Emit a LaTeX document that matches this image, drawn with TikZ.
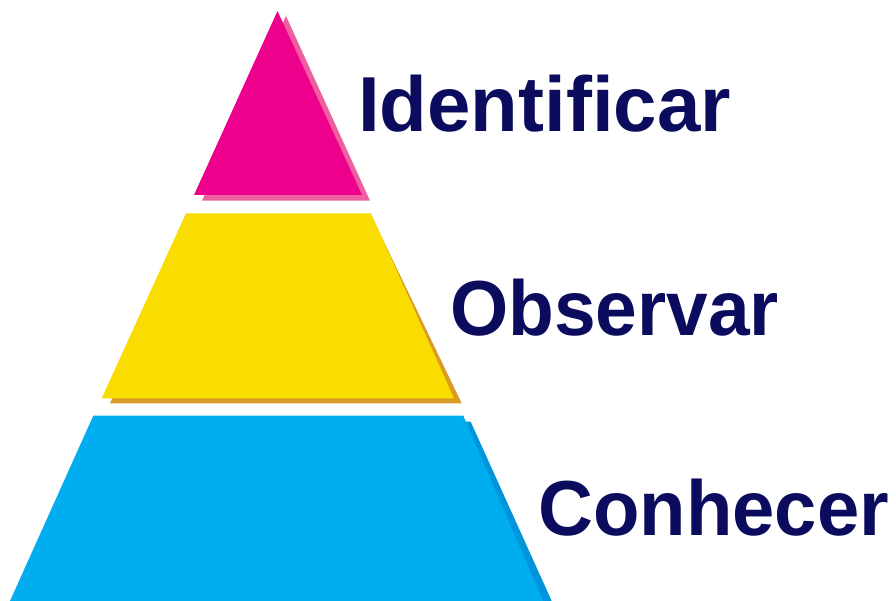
\documentclass[tikz,border=0pt]{standalone}
\usepackage{fontspec}
\setmainfont{Liberation Sans}
\definecolor{pinkmain}{HTML}{EC008C}
\definecolor{pinkshadow}{HTML}{EE5FA0}
\definecolor{yellowmain}{HTML}{F9DC00}
\definecolor{yellowshadow}{HTML}{D99A26}
\definecolor{cyanmain}{HTML}{00AEEF}
\definecolor{cyanshadow}{HTML}{0095DA}
\definecolor{navy}{HTML}{0C0C5E}
\tikzset{
  label text/.style={anchor=base west, inner sep=0pt, text=navy, font=\fontsize{78}{80}\selectfont\bfseries},
}
\begin{document}
\begin{tikzpicture}[x=1pt,y=-1pt]
\useasboundingbox (0,0) rectangle (896,601);
% top triangle
\fill[pinkshadow] (286,16) -- (370,200.7) -- (202,200.7) -- cycle;
\fill[pinkmain] (277.5,11) -- (362,195) -- (194,195) -- cycle;
% middle trapezoid
\fill[yellowshadow] (193,219) -- (373,219) -- (461.7,403.3) -- (110,403.3) -- cycle;
\fill[yellowmain] (186,213.3) -- (371,213.3) -- (454,398.3) -- (101.7,398.3) -- cycle;
% bottom trapezoid
\fill[cyanshadow] (100,421.7) -- (470.7,421.7) -- (551.7,601) -- (17,601) -- cycle;
\fill[cyanmain] (93.3,415.7) -- (463.3,415.7) -- (543,601) -- (10,601) -- cycle;
% labels
\node[label text] (ident) at (358,131.5) {Identificar};
\node[label text, xscale=0.96] (obs) at (450,335.5) {Observar};
\node[label text, xscale=0.975] (con) at (538,535) {Conhecer};
\end{tikzpicture}
\end{document}
